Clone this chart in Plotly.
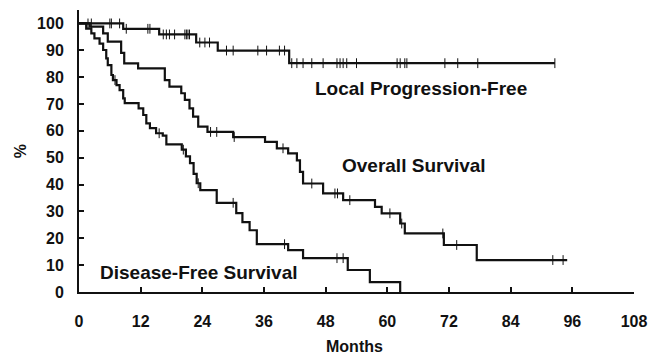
import numpy as np
import plotly.graph_objects as go

# ---- data (months, %) ----
lpf_t = [0, 8.6, 15.6, 22.8, 27.0, 40.9, 92.6]
lpf_v = [100, 98, 95.9, 92.9, 89.9, 85.2, 85.2]
lpf_cens = [1.75, 2.4, 6.0, 6.3, 7.9, 9.2, 13.4, 13.8, 16.4, 17.0, 17.6, 18.6,
            20.6, 20.9, 21.2, 21.5, 23.5, 24.5, 25.4, 28.7, 30.0, 34.8, 36.5,
            39.0, 40.0, 41.4, 42.4, 43.6, 45.3, 47.5, 50.2, 50.8, 51.4, 52.1,
            54.0, 61.9, 62.5, 63.4, 63.8, 71.2, 73.7, 77.6, 92.6]

os_t = [0, 2.1, 4.7, 5.6, 8.2, 8.8, 11.5, 16.7, 17.6, 19.9, 20.6, 21.5, 22.2,
        23.2, 25.0, 30.0, 36.2, 38.5, 40.7, 42.4, 43.0, 43.6, 47.5, 51.4, 57.6,
        58.9, 62.5, 63.4, 71.0, 77.4, 95.0]
os_v = [100, 98.8, 96.3, 93.2, 89, 85.1, 83.3, 78.9, 76.5, 74, 71.5, 68.4, 65.3,
        61.6, 59.6, 57.7, 55.9, 53.5, 51.6, 49, 44.7, 40.4, 36.7, 34.2, 31.7,
        29.3, 25.5, 21.8, 17.5, 11.9, 11.9]
os_cens = [25.6, 26.8, 30.2, 39.7, 45.3, 49.8, 50.3, 52.7, 60.5, 62.8, 70.8,
           73.5, 92.2, 94.2]

dfs_t = [0, 1.4, 2.4, 3.0, 4.0, 4.7, 5.3, 5.6, 6.3, 6.6, 7.3, 7.9, 8.6, 8.9,
         11.6, 12.5, 13.1, 13.8, 15.0, 16.3, 17.0, 20.0, 20.8, 21.6, 22.3, 22.9,
         23.6, 26.8, 30.6, 31.8, 33.2, 34.6, 40.7, 43.6, 52.3, 56.6, 62.5]
dfs_v = [100, 98.1, 96.3, 94.4, 92.5, 90.1, 87, 84.5, 80.8, 78.9, 77, 75.2,
         72.1, 70.3, 68.4, 65.9, 62.8, 61, 59.1, 58.2, 55, 53, 50.5, 48, 44,
         40.5, 37.9, 33.2, 29.4, 26, 23, 17.8, 15.6, 12.6, 8.2, 3.7, 0]
dfs_cens = [7.0, 15.6, 20.3, 23.2, 30.0, 40.0, 50.2, 51.4]

x_ticks = [0, 12, 24, 36, 48, 60, 72, 84, 96, 108]
y_ticks = [0, 10, 20, 30, 40, 50, 60, 70, 80, 90, 100]

labels = [("Local Progression-Free", 66.5, 75.6),
          ("Overall Survival", 65.2, 47.0),
          ("Disease-Free Survival", 23.4, 7.2)]

INK = "#111111"
FONT = "Liberation Sans"


def step_at(t, v, c):
    idx = np.searchsorted(np.asarray(t), np.asarray(c), side="right") - 1
    return list(np.asarray(v)[idx])


fig = go.Figure()
for t, v, cens in [(lpf_t, lpf_v, lpf_cens), (os_t, os_v, os_cens),
                   (dfs_t, dfs_v, dfs_cens)]:
    fig.add_trace(go.Scatter(x=t, y=v, mode="lines", line_shape="hv",
                             line=dict(color=INK, width=2.2), showlegend=False,
                             hoverinfo="skip"))
    fig.add_trace(go.Scatter(x=cens, y=step_at(t, v, cens), mode="markers",
                             marker=dict(symbol="line-ns", size=7,
                                         line=dict(color=INK, width=1)),
                             showlegend=False, hoverinfo="skip"))

for txt, x, y in labels:
    fig.add_annotation(x=x, y=y, text=txt, showarrow=False,
                       font=dict(family=FONT, size=19, color=INK, weight="bold"))

fig.add_annotation(xref="paper", yref="paper", x=-0.106, y=0.50, text="%",
                   textangle=-90, showarrow=False, xanchor="center",
                   yanchor="middle",
                   font=dict(family=FONT, size=16, color=INK, weight="bold"))
fig.add_annotation(xref="paper", yref="paper", x=0.497, y=-0.195, text="Months",
                   showarrow=False, xanchor="center", yanchor="middle",
                   font=dict(family=FONT, size=16, color=INK, weight="bold"))

fig.update_xaxes(range=[0, 108], tickvals=x_ticks, ticktext=[str(v) for v in x_ticks],
                 showline=True, linecolor=INK, linewidth=2, ticks="inside",
                 ticklen=5, tickwidth=1.5, tickcolor=INK, showgrid=False,
                 zeroline=False, ticklabelstandoff=14,
                 tickfont=dict(family=FONT, size=16, color=INK, weight="bold"))
fig.update_yaxes(range=[0, 105], tickvals=y_ticks, ticktext=[str(v) for v in y_ticks],
                 showline=True, linecolor=INK, linewidth=2, ticks="inside",
                 ticklen=5, tickwidth=1.5, tickcolor=INK, showgrid=False,
                 zeroline=False, ticklabelstandoff=10,
                 tickfont=dict(family=FONT, size=16, color=INK, weight="bold"))

fig.update_layout(width=656, height=356, autosize=False,
                  margin=dict(l=79, r=22, t=10, b=64),
                  paper_bgcolor="white", plot_bgcolor="white")

fig.write_html("out.html")
